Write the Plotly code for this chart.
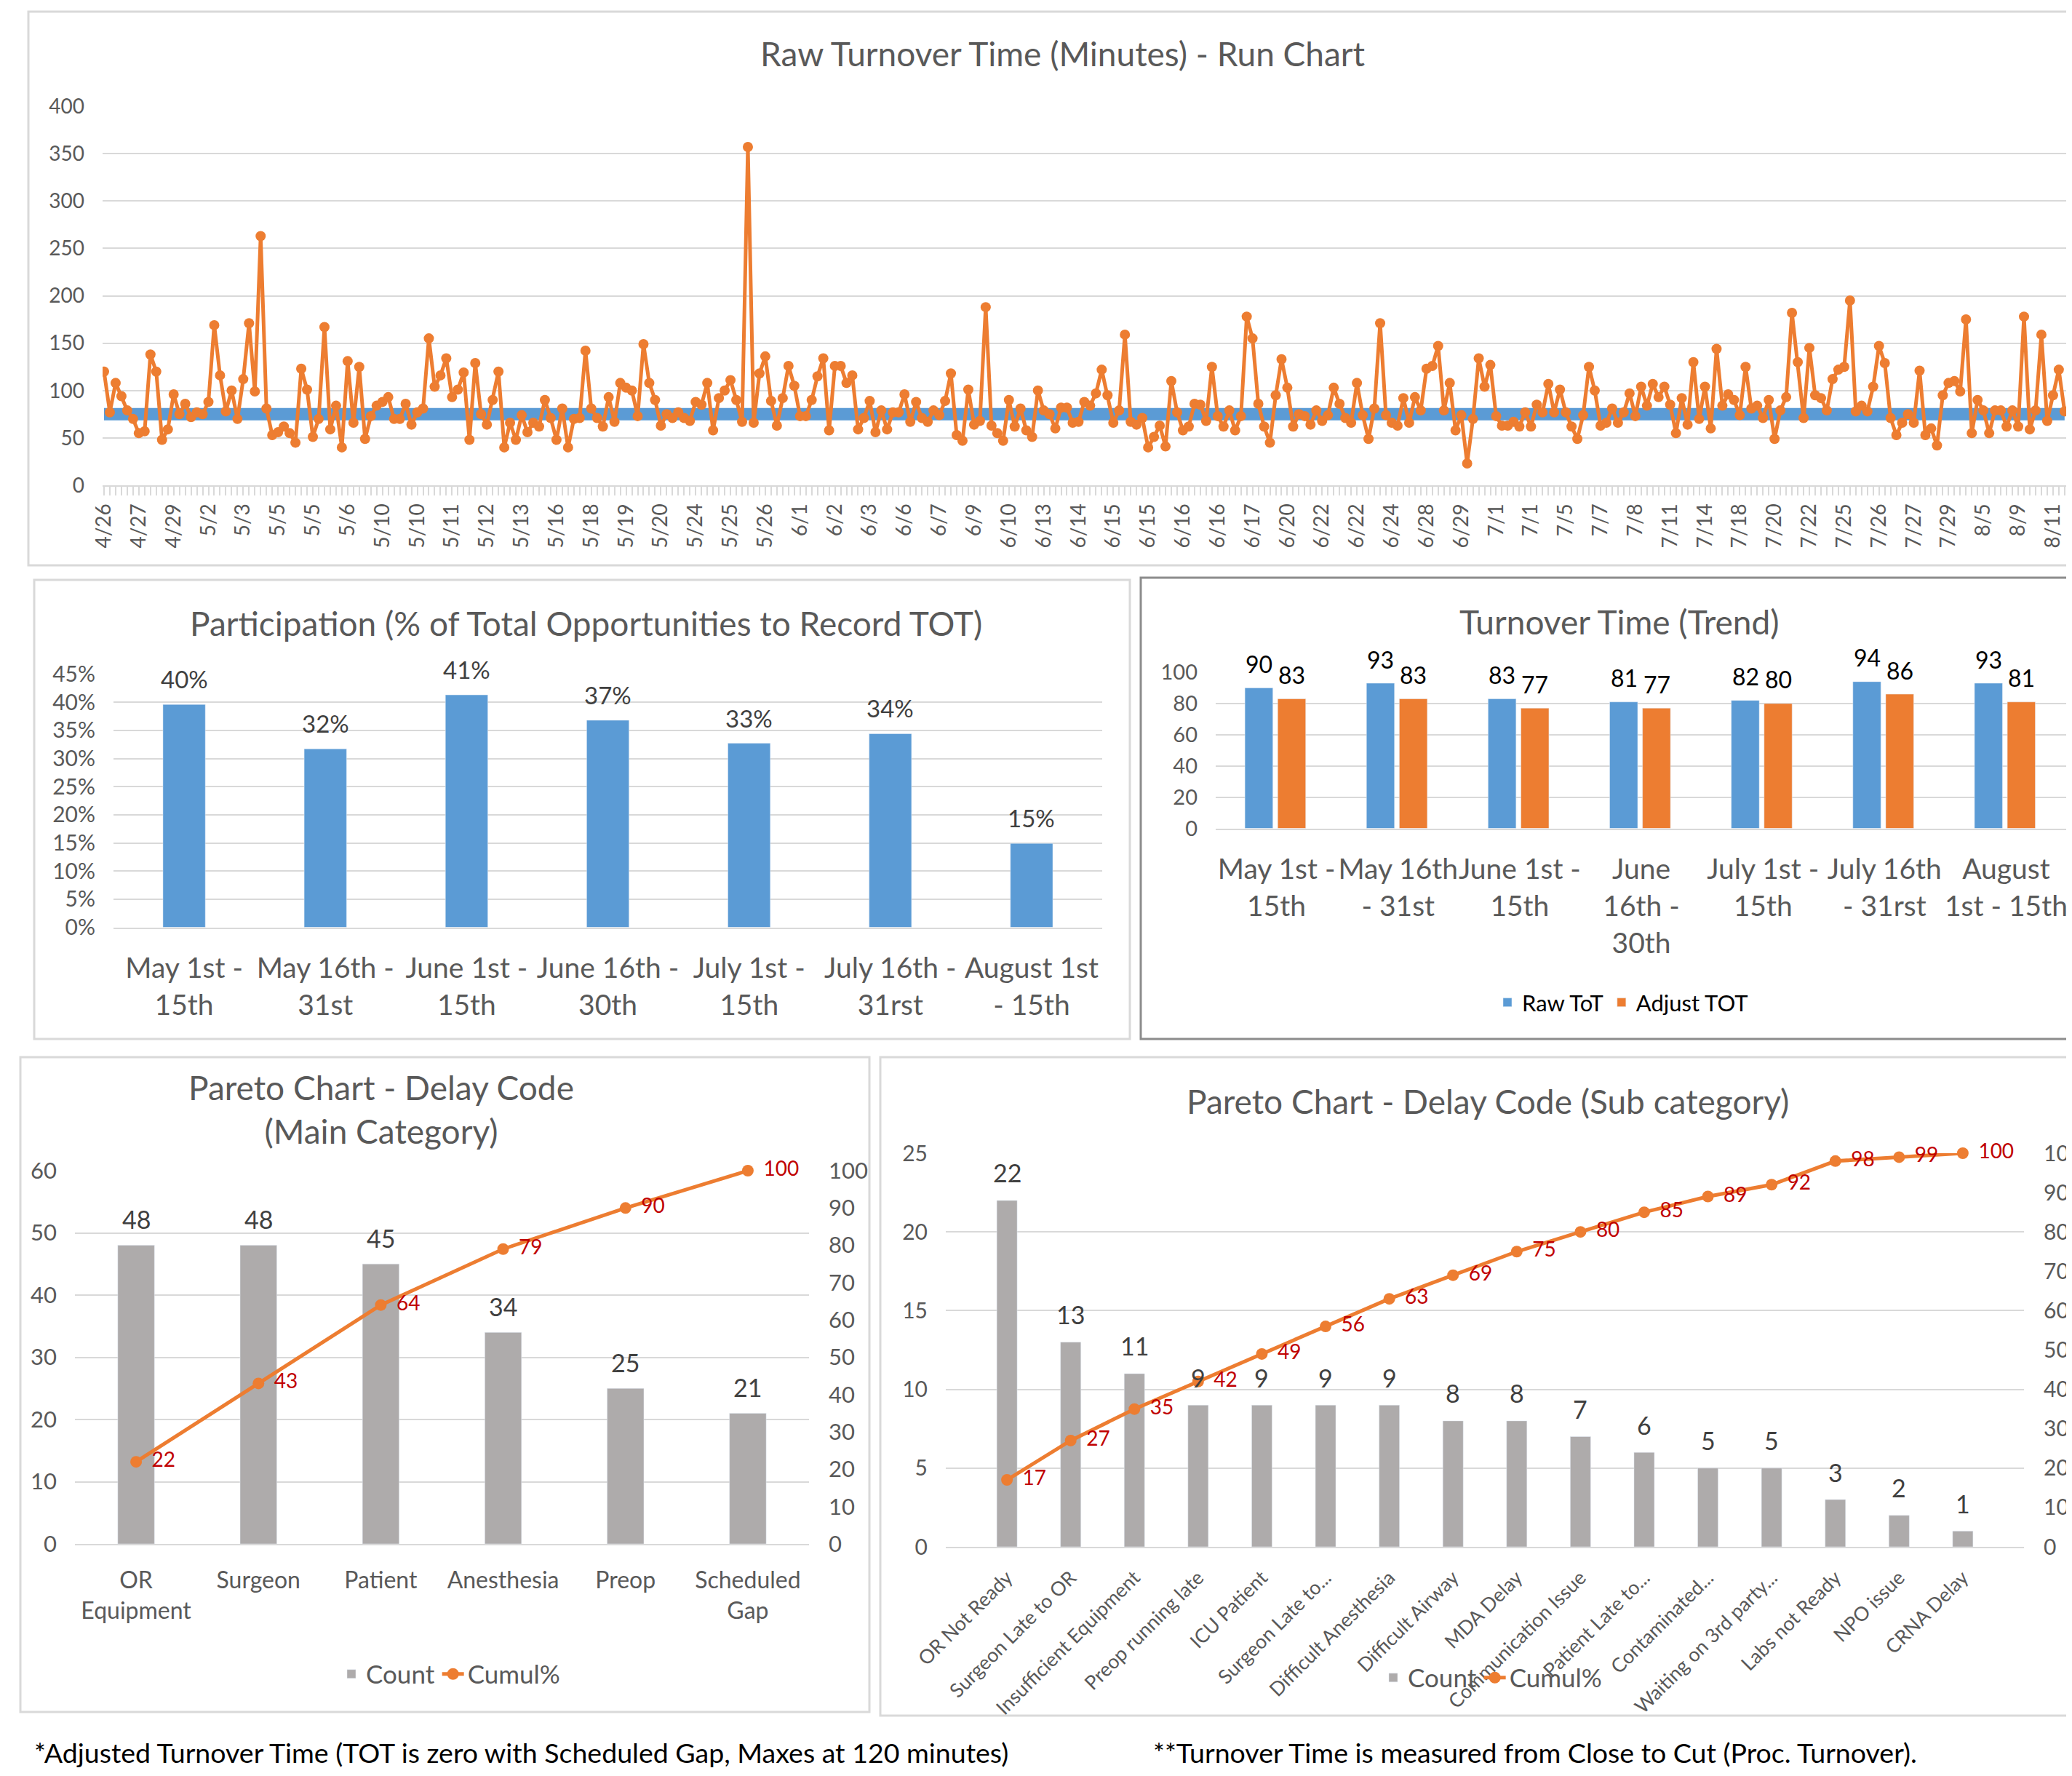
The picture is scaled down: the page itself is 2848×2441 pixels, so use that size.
import plotly.graph_objects as go

# ---------------- data ----------------
run_tick_labels = [
    "4/26", "4/27", "4/29", "5/2", "5/3", "5/5", "5/5", "5/6", "5/10", "5/10",
    "5/11", "5/12", "5/13", "5/16", "5/18", "5/19", "5/20", "5/24", "5/25", "5/26",
    "6/1", "6/2", "6/3", "6/6", "6/7", "6/9", "6/10", "6/13", "6/14", "6/15",
    "6/15", "6/16", "6/16", "6/17", "6/20", "6/22", "6/22", "6/24", "6/28", "6/29",
    "7/1", "7/1", "7/5", "7/7", "7/8", "7/11", "7/14", "7/18", "7/20", "7/22",
    "7/25", "7/26", "7/27", "7/29", "8/5", "8/9", "8/11",
]
run_label_every = 6  # one date label per 6 cases

raw_tot_seg1 = [
    120, 77, 108, 94, 79, 70, 55, 57, 138, 120,
    48, 59, 96, 75, 86, 72, 77, 75, 88, 169,
    116, 78, 100, 70, 112, 171, 99, 263, 81, 53,
    56, 62, 55, 45, 123, 101, 51, 70, 167, 59,
    84, 40, 131, 66, 125, 49, 73, 84, 88, 93,
    70, 70, 86, 64, 77, 81, 155, 104, 116, 134,
    93, 101, 119, 48, 129, 75, 64, 90, 120, 40,
    66, 48, 74, 56, 66, 62, 90, 71, 48, 81,
    40, 70, 71, 142, 81, 71, 62,
]
raw_tot_seg2 = [
    93, 67, 108, 103, 100, 73, 149, 108, 90, 63,
    75, 71, 77, 71, 68, 88, 85, 108, 58, 92,
    100, 111, 90, 67, 357, 66, 118, 136, 89, 63,
    92, 126, 105, 73, 73, 90, 115, 134, 58, 126,
    126, 108, 116, 59, 71, 89, 56, 79, 59, 77,
    77, 96, 67, 88, 71, 67, 79, 74, 89, 118,
    53, 47, 101, 64, 68, 188, 63, 55, 47, 90,
    62, 81, 58, 51, 100, 79, 75, 60, 82, 82,
    66, 67, 88, 84, 97, 122,
]
raw_tot_seg3 = [
    95, 66, 79, 159, 67, 64, 71, 40, 51, 63,
    41, 110, 77, 58, 62, 86, 85, 68, 125, 73,
    62, 79, 58, 73, 178, 155, 86, 62, 45, 95,
    133, 103, 62, 75, 73, 64, 79, 68, 74, 103,
    86, 71, 66, 108, 74, 49, 81, 171, 74, 66,
    63, 92, 66, 93, 79, 123, 126, 147, 79, 108,
    58, 74, 23, 70, 134, 104, 127, 73, 63, 63,
    67, 62, 77, 62, 85, 77, 107, 77, 101, 77,
    62, 49, 74, 125, 100, 63,
]
raw_tot_seg4 = [
    66, 81, 66, 77, 97, 73, 104, 84, 107, 93,
    104, 85, 55, 92, 64, 130, 70, 104, 60, 144,
    84, 96, 90, 74, 125, 81, 84, 71, 90, 49,
    79, 93, 182, 130, 71, 145, 95, 92, 79, 112,
    122, 125, 195, 78, 84, 78, 104, 147, 129, 71,
    53, 66, 75, 66, 121, 53, 60, 42, 95, 108,
    110, 99, 175, 55, 90, 79, 55, 79, 79, 62,
    79, 62, 178, 59, 79, 159, 68, 95, 122, 78,
]
target_tot = 75

period_labels = [
    "May 1st -<br>15th", "May 16th -<br>31st", "June 1st -<br>15th",
    "June 16th -<br>30th", "July 1st -<br>15th", "July 16th -<br>31rst",
    "August 1st<br>- 15th",
]
participation = [0.396, 0.317, 0.413, 0.368, 0.327, 0.344, 0.149]

trend_labels = [
    "May 1st -<br>15th", "May 16th<br>- 31st", "June 1st -<br>15th",
    "June<br>16th -<br>30th", "July 1st -<br>15th", "July 16th<br>- 31rst",
    "August<br>1st - 15th",
]
raw_tot_avg = [90, 93, 83, 81, 82, 94, 93]
adj_tot_avg = [83, 83, 77, 77, 80, 86, 81]

main_categories = ["OR<br>Equipment", "Surgeon", "Patient", "Anesthesia", "Preop", "Scheduled<br>Gap"]
main_counts = [48, 48, 45, 34, 25, 21]
main_cumul = [22, 43, 64, 79, 90, 100]

sub_categories = [
    "OR Not Ready", "Surgeon Late to OR", "Insufficient Equipment", "Preop running late",
    "ICU Patient", "Surgeon Late to...", "Difficult Anesthesia", "Difficult Airway",
    "MDA Delay", "Communication Issue", "Patient Late to...", "Contaminated...",
    "Waiting on 3rd party...", "Labs not Ready", "NPO issue", "CRNA Delay",
]
sub_counts = [22, 13, 11, 9, 9, 9, 9, 8, 8, 7, 6, 5, 5, 3, 2, 1]
sub_cumul = [17, 27, 35, 42, 49, 56, 63, 69, 75, 80, 85, 89, 92, 98, 99, 100]

footnote_left = "*Adjusted Turnover Time (TOT is zero with Scheduled Gap, Maxes at 120 minutes)"
footnote_right = "**Turnover Time is measured from Close to Cut (Proc. Turnover)."

# ---------------- style ----------------
W, H = 2848, 2441
OFF = 8  # page body margin
FONT = "Lato"
GRID = "#D9D9D9"
TXT = "#595959"
LBL = "#404040"
BLUE = "#5B9BD5"
ORANGE = "#ED7D31"
GRAY = "#AEABAB"
RED = "#C00000"


def px(x):
    return (x - OFF) / W


def py(y):
    return 1 - (y - OFF) / H


def f(size, color=TXT):
    return dict(family=FONT, size=size, color=color)


raw_tot = raw_tot_seg1 + raw_tot_seg2 + raw_tot_seg3 + raw_tot_seg4
case_idx = list(range(len(raw_tot)))
tick_idx = case_idx[::run_label_every]

fig = go.Figure()

# ---- Run chart ----
fig.add_trace(go.Scatter(
    x=case_idx, y=[target_tot] * len(case_idx), mode="lines",
    line=dict(color=BLUE, width=17), xaxis="x", yaxis="y",
    showlegend=False, hoverinfo="skip"))
fig.add_trace(go.Scatter(
    x=case_idx, y=raw_tot, mode="lines+markers",
    line=dict(color=ORANGE, width=5), marker=dict(size=14, color=ORANGE),
    xaxis="x", yaxis="y", showlegend=False, name="Raw TOT"))

# ---- Participation ----
fig.add_trace(go.Bar(
    x=period_labels, y=participation, width=0.3, marker_color=BLUE,
    xaxis="x2", yaxis="y2", showlegend=False, name="Participation"))

# ---- Trend ----
fig.add_trace(go.Bar(
    x=trend_labels, y=raw_tot_avg, width=0.23, offset=-0.26, marker_color=BLUE,
    name="Raw ToT", xaxis="x3", yaxis="y3", legend="legend"))
fig.add_trace(go.Bar(
    x=trend_labels, y=adj_tot_avg, width=0.23, offset=0.01, marker_color=ORANGE,
    name="Adjust TOT", xaxis="x3", yaxis="y3", legend="legend"))

# ---- Pareto main ----
fig.add_trace(go.Bar(
    x=main_categories, y=main_counts, width=0.3, marker_color=GRAY,
    name="Count", xaxis="x4", yaxis="y4", legend="legend2"))
fig.add_trace(go.Scatter(
    x=main_categories, y=main_cumul, mode="lines+markers", name="Cumul%",
    line=dict(color=ORANGE, width=5), marker=dict(size=16, color=ORANGE),
    xaxis="x4", yaxis="y6", legend="legend2", cliponaxis=False))
fig.add_trace(go.Scatter(
    x=main_categories, y=main_cumul, mode="text", showlegend=False,
    text=["\u00a0\u00a0\u00a0" + str(v) for v in main_cumul],
    textposition="middle right", textfont=f(28, RED),
    xaxis="x4", yaxis="y6", cliponaxis=False, hoverinfo="skip"))

# ---- Pareto sub ----
fig.add_trace(go.Bar(
    x=sub_categories, y=sub_counts, width=0.32, marker_color=GRAY,
    name="Count", xaxis="x5", yaxis="y5", legend="legend3"))
fig.add_trace(go.Scatter(
    x=sub_categories, y=sub_cumul, mode="lines+markers", name="Cumul%",
    line=dict(color=ORANGE, width=5), marker=dict(size=16, color=ORANGE),
    xaxis="x5", yaxis="y7", legend="legend3", cliponaxis=False))
fig.add_trace(go.Scatter(
    x=sub_categories, y=sub_cumul, mode="text", showlegend=False,
    text=["\u00a0\u00a0\u00a0" + str(v) for v in sub_cumul],
    textposition="middle right", textfont=f(28, RED),
    xaxis="x5", yaxis="y7", cliponaxis=False, hoverinfo="skip"))


# ---- bar value labels (placed at each bar top through the data axes) ----
def bar_labels(cats, vals, texts, xref, yref, size, color, yshift, xshift=0):
    for c, v, t in zip(cats, vals, texts):
        fig.add_annotation(x=c, y=v, xref=xref, yref=yref, text=str(t),
                           showarrow=False, xanchor="center", yanchor="middle",
                           yshift=yshift, xshift=xshift, font=f(size, color))


bar_labels(period_labels, participation, [f"{v:.0%}" for v in participation],
           "x2", "y2", 33, LBL, 35)
bar_labels(trend_labels, raw_tot_avg, raw_tot_avg, "x3", "y3", 32, "#000000", 33, -24)
bar_labels(trend_labels, adj_tot_avg, adj_tot_avg, "x3", "y3", 32, "#000000", 33, 21)
bar_labels(main_categories, main_counts, main_counts, "x4", "y4", 34, LBL, 36)
bar_labels(sub_categories, sub_counts, sub_counts, "x5", "y5", 34, LBL, 38)


def yax(top, bottom, rng, dtick, size, anchor, fmt=None):
    d = dict(domain=[py(bottom), py(top)], range=rng, dtick=dtick, tick0=0,
             tickfont=f(size), showgrid=True, gridcolor=GRID, gridwidth=2,
             zeroline=False, showline=False, ticks="", ticklabelstandoff=24,
             anchor=anchor, fixedrange=True, automargin=False)
    if fmt:
        d["tickformat"] = fmt
    return d


def xcat(left, right, size, anchor, standoff, angle=0):
    return dict(domain=[px(left), px(right)], type="category", tickfont=f(size),
                showgrid=False, zeroline=False, showline=True, linecolor=GRID,
                linewidth=2, ticks="", ticklabelstandoff=standoff, tickangle=angle,
                anchor=anchor, fixedrange=True, automargin=False)


layout = dict(
    width=W, height=H, margin=dict(l=0, r=0, t=0, b=0, pad=0, autoexpand=False),
    paper_bgcolor="white", plot_bgcolor="white",
    font=dict(family=FONT, color=TXT), barmode="overlay", showlegend=True,
    xaxis=dict(domain=[px(141), px(2845)], range=[-0.25, len(raw_tot) - 1 + 0.9],
               tickmode="array", tickvals=tick_idx,
               ticktext=run_tick_labels[:len(tick_idx)], tickangle=-90,
               tickfont=f(28), showgrid=False, zeroline=False, showline=True,
               linecolor=GRID, linewidth=2, ticks="outside", ticklen=12,
               tickcolor=GRID, tickwidth=2, anchor="y", fixedrange=True,
               automargin=False,
               minor=dict(ticks="outside", ticklen=12, tickcolor=GRID, tickwidth=1.5,
                          tick0=0, dtick=1, showgrid=False)),
    yaxis=yax(146, 667, [0, 400], 50, 28, "x"),
    xaxis2=xcat(156, 1515, 39, "y2", 21),
    yaxis2=yax(926.5, 1274.5, [0, 0.45], 0.05, 30, "x2", ".0%"),
    xaxis3=xcat(1671, 2841, 39, "y3", 21),
    yaxis3=yax(924, 1138.6, [0, 100], 20, 29, "x3"),
    xaxis4=xcat(103, 1112, 32, "y4", 21),
    yaxis4=yax(1609, 2122, [0, 60], 10, 31, "x4"),
    yaxis6=dict(overlaying="y4", side="right", range=[0, 100], dtick=10, tick0=0,
                tickfont=f(31), showgrid=False, zeroline=False, showline=False,
                ticks="", ticklabelstandoff=26, anchor="x4", fixedrange=True,
                automargin=False),
    xaxis5=xcat(1300, 2782, 27, "y5", 14, angle=-45),
    yaxis5=yax(1585, 2126, [0, 25], 5, 30, "x5"),
    yaxis7=dict(overlaying="y5", side="right", range=[0, 100], dtick=10, tick0=0,
                tickfont=f(30), showgrid=False, zeroline=False, showline=False,
                ticks="", ticklabelstandoff=26, anchor="x5", fixedrange=True,
                automargin=False),
    legend=dict(orientation="h", x=px(2230), xanchor="center", y=py(1378),
                yanchor="middle", font=f(31, "#000000"), bgcolor="rgba(0,0,0,0)",
                traceorder="normal"),
    legend2=dict(orientation="h", x=px(619), xanchor="center", y=py(2301),
                 yanchor="middle", font=f(35), bgcolor="rgba(0,0,0,0)",
                 traceorder="normal"),
    legend3=dict(orientation="h", x=px(2051), xanchor="center", y=py(2306),
                 yanchor="middle", font=f(35), bgcolor="rgba(0,0,0,0)",
                 traceorder="normal"),
)
fig.update_layout(**layout)

# panel frames
frames = [
    (39, 16, 2870, 777, GRID),
    (47, 797, 1553, 1428, GRID),
    (1568, 794, 2870, 1428, "#8C8C8C"),
    (28, 1453, 1195, 2353, GRID),
    (1210, 1453, 2870, 2358, GRID),
]
for x0, y0, x1, y1, col in frames:
    fig.add_shape(type="rect", xref="paper", yref="paper", x0=px(x0), x1=px(x1),
                  y0=py(y1), y1=py(y0), line=dict(color=col, width=3),
                  fillcolor="rgba(0,0,0,0)", layer="below")

titles = [
    ("Raw Turnover Time (Minutes) - Run Chart", 1461, 74),
    ("Participation (% of Total Opportunities to Record TOT)", 805, 856),
    ("Turnover Time (Trend)", 2226, 854),
    ("Pareto Chart - Delay Code<br>(Main Category)", 524, 1524),
    ("Pareto Chart - Delay Code (Sub category)", 2045, 1513),
]
for text, x, y in titles:
    fig.add_annotation(text=text, x=px(x), y=py(y), xref="paper", yref="paper",
                       xanchor="center", yanchor="middle", showarrow=False,
                       font=f(46))

fig.add_annotation(text=footnote_left, x=px(45), y=py(2408), xref="paper", yref="paper",
                   xanchor="left", yanchor="middle", showarrow=False, font=f(37.5, "#000000"))
fig.add_annotation(text=footnote_right, x=px(1583), y=py(2408), xref="paper", yref="paper",
                   xanchor="left", yanchor="middle", showarrow=False, font=f(37.5, "#000000"))

fig.write_html("out.html")
